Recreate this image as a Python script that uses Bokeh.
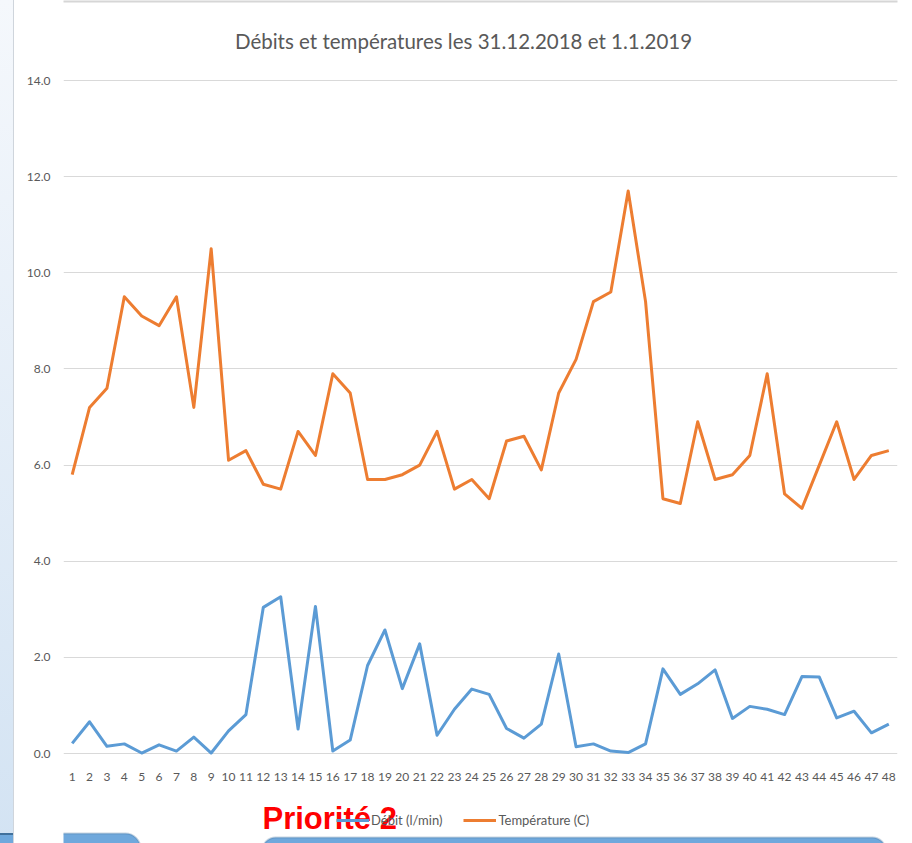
from bokeh.plotting import figure
from bokeh.layouts import row
from bokeh.models import (Range1d, FixedTicker, Legend, LegendItem, Label,
                          NumeralTickFormatter, Div, BoxAnnotation)
from bokeh.embed import file_html
from bokeh.resources import INLINE

points = list(range(1, 49))
debit = [0.21, 0.66, 0.15, 0.20, 0.01, 0.18, 0.05, 0.34, 0.01, 0.47,
         0.81, 3.04, 3.26, 0.51, 3.06, 0.05, 0.28, 1.83, 2.57, 1.35,
         2.28, 0.38, 0.92, 1.34, 1.23, 0.52, 0.32, 0.61, 2.07, 0.14,
         0.20, 0.05, 0.02, 0.20, 1.76, 1.23, 1.45, 1.74, 0.73, 0.98,
         0.92, 0.81, 1.60, 1.59, 0.74, 0.88, 0.43, 0.61]
temperature = [5.8, 7.2, 7.6, 9.5, 9.1, 8.9, 9.5, 7.2, 10.5, 6.1,
               6.3, 5.6, 5.5, 6.7, 6.2, 7.9, 7.5, 5.7, 5.7, 5.8,
               6.0, 6.7, 5.5, 5.7, 5.3, 6.5, 6.6, 5.9, 7.5, 8.2,
               9.4, 9.6, 11.7, 9.4, 5.3, 5.2, 6.9, 5.7, 5.8, 6.2,
               7.9, 5.4, 5.1, 6.0, 6.9, 5.7, 6.2, 6.3]
y_ticks = [0, 2, 4, 6, 8, 10, 12, 14]
series_names = ["Débit (l/min)", "Température (C)"]
title_text = "Débits et températures les 31.12.2018 et 1.1.2019"
overlay_text = "Priorité 2"

FONT = "Lato"
GREY = "#595959"

# layout (pixels)
STRIP_W = 14
FIG_W, FIG_H = 912 - STRIP_W, 843
PLOT_TOP_PX, PLOT_ZERO_PX = 80, 753          # y of 14.0 and 0.0 gridlines
Y_MAX = 14.0
px_per_unit = (PLOT_ZERO_PX - PLOT_TOP_PX) / Y_MAX
y_lo = -(FIG_H - PLOT_ZERO_PX) / px_per_unit
y_hi = Y_MAX + PLOT_TOP_PX / px_per_unit

p = figure(width=FIG_W, height=FIG_H, output_backend="svg", toolbar_location=None,
           x_range=Range1d(0.5, 48.5), y_range=Range1d(y_lo, y_hi),
           min_border_left=63 - STRIP_W, min_border_right=15,
           min_border_top=0, min_border_bottom=0, margin=0)
p.outline_line_color = None
p.background_fill_color = "white"
p.border_fill_color = "white"

p.xaxis.fixed_location = 0
p.xaxis.ticker = FixedTicker(ticks=points)
p.xaxis.axis_line_color = None
p.xaxis.major_tick_line_color = None
p.xaxis.major_tick_out = 0
p.xaxis.minor_tick_line_color = None
p.xaxis.major_label_standoff = 19
p.xaxis.major_label_text_font = FONT
p.xaxis.major_label_text_font_size = "12px"
p.xaxis.major_label_text_color = GREY

p.yaxis.ticker = FixedTicker(ticks=y_ticks)
p.yaxis.formatter = NumeralTickFormatter(format="0.0")
p.yaxis.axis_line_color = None
p.yaxis.major_tick_line_color = None
p.yaxis.major_tick_out = 0
p.yaxis.minor_tick_line_color = None
p.yaxis.major_label_standoff = 13
p.yaxis.major_label_text_font = FONT
p.yaxis.major_label_text_font_size = "12px"
p.yaxis.major_label_text_color = GREY

p.xgrid.grid_line_color = None
p.ygrid.grid_line_color = "#d9d9d9"
p.ygrid.grid_line_width = 1

r1 = p.line(points, debit, line_color="#5b9bd5", line_width=3, line_join="round")
r2 = p.line(points, temperature, line_color="#ed7d31", line_width=3, line_join="round")

# slide decorations: thin top border, shapes peeking in at the bottom
p.add_layout(BoxAnnotation(left=-70, right=900, bottom=FIG_H - 2, top=FIG_H + 2,
                           left_units="screen", right_units="screen",
                           bottom_units="screen", top_units="screen",
                           fill_color="#d6d6d6", fill_alpha=1, line_color=None))
p.add_layout(BoxAnnotation(left=-70, right=77, bottom=-20, top=10,
                           left_units="screen", right_units="screen",
                           bottom_units="screen", top_units="screen",
                           fill_color="#6fa8dc", fill_alpha=1,
                           line_color="#41719c", line_width=2, border_radius=18))
p.add_layout(BoxAnnotation(left=199, right=822, bottom=-20, top=6,
                           left_units="screen", right_units="screen",
                           bottom_units="screen", top_units="screen",
                           fill_color="#6fa8dc", fill_alpha=1,
                           line_color="#41719c", line_width=2, border_radius=18))

legend = Legend(items=[LegendItem(label=series_names[0], renderers=[r1]),
                       LegendItem(label=series_names[1], renderers=[r2])],
                orientation="horizontal", location=(273, 15),
                border_line_color=None, background_fill_alpha=0,
                padding=0, margin=0, glyph_width=33, glyph_height=14,
                label_standoff=2, spacing=21, label_text_font=FONT,
                label_text_font_size="13px", label_text_color=GREY)
p.add_layout(legend)

p.add_layout(Label(x=400, y=FIG_H - 40, x_units="screen", y_units="screen",
                   text=title_text, text_align="center", text_baseline="middle",
                   text_font=FONT, text_font_size="20.5px", text_color=GREY))

p.add_layout(Label(x=199, y=25, x_units="screen", y_units="screen",
                   text=overlay_text, text_align="left", text_baseline="alphabetic",
                   text_font="Liberation Sans", text_font_style="bold",
                   text_font_size="31px", text_color="#ff0000"))

strip = Div(width=STRIP_W, height=FIG_H, margin=0,
            styles={"background": ("linear-gradient(to bottom, transparent 833px, "
                                   "#41719c 833px, #41719c 835px, #6fa8dc 835px), "
                                   "linear-gradient(to bottom, #f5f8fc, #d3e3f3)"),
                    "border-right": "1px solid #cfd5dc",
                    "box-sizing": "border-box"})

layout = row(strip, p, spacing=0, margin=0)
open("out.html", "w").write(file_html(layout, INLINE))
